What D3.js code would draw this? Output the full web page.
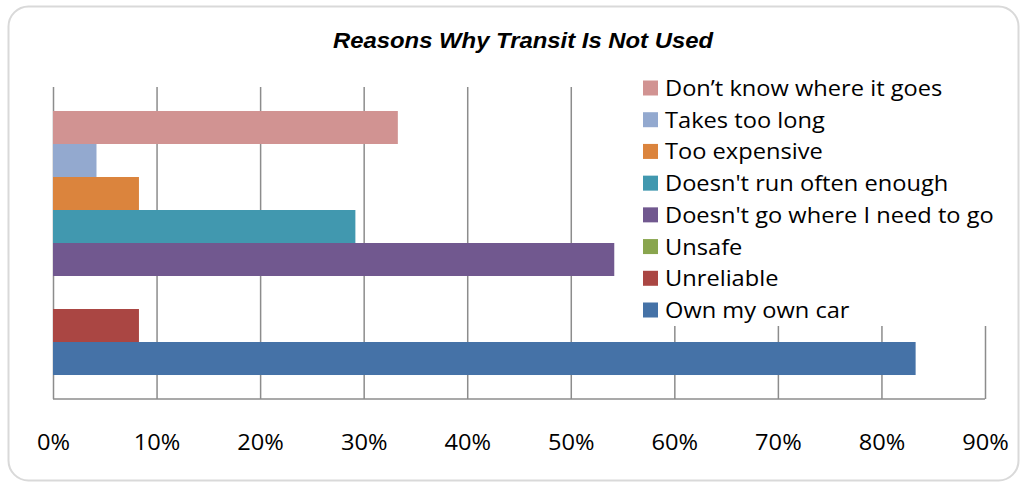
<!DOCTYPE html>
<html>
<head>
<meta charset="utf-8">
<script src="https://cdn.jsdelivr.net/npm/d3@7"></script>
<style>
  html, body { margin: 0; padding: 0; background: #ffffff; }
  svg { display: block; }
</style>
</head>
<body>
<svg id="chart" width="1025" height="485"></svg>
<script>
// Survey responses, share of respondents (%), listed in series order
const reasons = [
  "Own my own car",
  "Unreliable",
  "Unsafe",
  "Doesn't go where I need to go",
  "Doesn't run often enough",
  "Too expensive",
  "Takes too long",
  "Don\u2019t know where it goes"
];
const shares = [83.3, 8.3, 0, 54.2, 29.2, 8.3, 4.2, 33.3];
const seriesColors = ["#4572A7", "#AA4643", "#89A54E", "#71588F", "#4198AF", "#DB843D", "#93A9CF", "#D19392"];
const tickValues = [0, 10, 20, 30, 40, 50, 60, 70, 80, 90];
const tickLabels = ["0%", "10%", "20%", "30%", "40%", "50%", "60%", "70%", "80%", "90%"];
const chartTitle = "Reasons Why Transit Is Not Used";

const svg = d3.select("#chart");
const plot = { left: 53, right: 985, top: 87, bottom: 399 };
const bodyFont = "'Open Sans', 'Noto Sans', sans-serif";
const widen = 1.075; // horizontal stretch applied to text faces

// outer rounded frame
svg.append("rect")
  .attr("x", 8.5).attr("y", 6.5)
  .attr("width", 1010).attr("height", 474)
  .attr("rx", 20).attr("ry", 20)
  .attr("fill", "#ffffff")
  .attr("stroke", "#d9d9d9")
  .attr("stroke-width", 2);

// title
svg.append("text")
  .attr("transform", "translate(523,48) scale(1.085,1)")
  .attr("text-anchor", "middle")
  .attr("font-family", "'Liberation Sans', Arial, sans-serif")
  .attr("font-weight", "bold")
  .attr("font-style", "italic")
  .attr("font-size", 22)
  .attr("fill", "#000000")
  .text(chartTitle);

const x = d3.scaleLinear().domain([0, 90]).range([plot.left, plot.right]);

// bars in a single category group; first series sits at the bottom
const y = d3.scaleBand()
  .domain(reasons.slice().reverse())
  .range([plot.top, plot.bottom])
  .paddingInner(0)
  .paddingOuter(0.727);

// vertical gridlines
const grid = d3.axisBottom(x)
  .tickValues(tickValues)
  .tickSize(-(plot.bottom - plot.top))
  .tickFormat("");
svg.append("g")
  .attr("transform", `translate(0,${plot.bottom})`)
  .call(grid)
  .call(g => g.select(".domain").remove())
  .call(g => g.selectAll(".tick line")
    .attr("stroke", "#8c8c8c")
    .attr("stroke-width", 1.5));

// horizontal axis line
svg.append("line")
  .attr("x1", plot.left).attr("x2", plot.right)
  .attr("y1", plot.bottom).attr("y2", plot.bottom)
  .attr("stroke", "#8c8c8c")
  .attr("stroke-width", 1.5);

// bars
svg.append("g")
  .selectAll("rect")
  .data(reasons.map((r, i) => ({ reason: r, value: shares[i], color: seriesColors[i] })))
  .join("rect")
  .attr("x", x(0))
  .attr("y", d => y(d.reason))
  .attr("width", d => x(d.value) - x(0))
  .attr("height", y.bandwidth())
  .attr("fill", d => d.color);

// tick labels
const labelAxis = d3.axisBottom(x)
  .tickValues(tickValues)
  .tickSize(0)
  .tickPadding(0)
  .tickFormat((d, i) => tickLabels[i]);
svg.append("g")
  .attr("transform", `translate(0,${plot.bottom})`)
  .call(labelAxis)
  .call(g => g.select(".domain").remove())
  .call(g => g.selectAll("text")
    .attr("dy", null)
    .attr("y", 0)
    .attr("transform", `translate(0,51) scale(${widen},1)`)
    .attr("font-family", bodyFont)
    .attr("font-size", 22)
    .attr("fill", "#000000"));

// legend, drawn over the plot on a white panel, last series on top
const legend = svg.append("g");
legend.append("rect")
  .attr("x", 636).attr("y", 70)
  .attr("width", 364).attr("height", 256)
  .attr("fill", "#ffffff");

const legendItems = reasons.map((r, i) => ({ reason: r, color: seriesColors[i] })).reverse();
const rowY = d3.scalePoint().domain(legendItems.map(d => d.reason)).range([88, 310]);

const item = legend.selectAll("g.item")
  .data(legendItems)
  .join("g")
  .attr("class", "item")
  .attr("transform", d => `translate(643,${rowY(d.reason)})`);

item.append("rect")
  .attr("x", 0).attr("y", -7.5)
  .attr("width", 15).attr("height", 15)
  .attr("fill", d => d.color);

item.append("text")
  .attr("transform", `translate(22,8) scale(${widen},1)`)
  .attr("font-family", bodyFont)
  .attr("font-size", 22)
  .attr("fill", "#000000")
  .text(d => d.reason);
</script>
</body>
</html>
